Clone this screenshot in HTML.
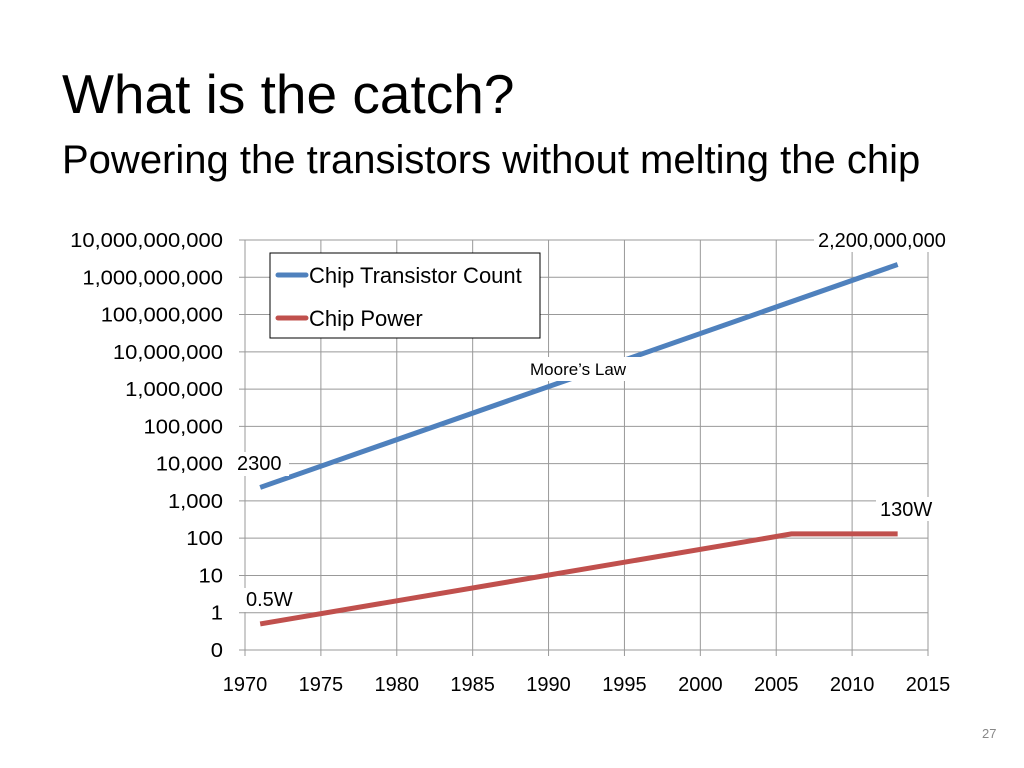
<!DOCTYPE html>
<html><head><meta charset="utf-8"><style>
body{margin:0;width:1024px;height:768px;background:#fff;font-family:"Liberation Sans",sans-serif;overflow:hidden;position:relative}
.t{position:absolute;white-space:nowrap;color:#000}
</style></head><body>
<div class="t" style="left:62px;top:62px;font-size:55px">What is the catch?</div>
<div class="t" style="left:62px;top:138px;font-size:40px">Powering the transistors without melting the chip</div>
<div class="t" style="left:982px;top:726px;font-size:13px;color:#888">27</div>
<svg id="chart" width="1024" height="768" style="position:absolute;left:0;top:0" font-family="Liberation Sans, sans-serif"></svg>
<script>
const years=[1971,2013];
const transistors=[2300,2200000000];
const powerYears=[1971,2006,2013];
const power=[0.5,130,130];
const xTicks=[1970,1975,1980,1985,1990,1995,2000,2005,2010,2015];
const yTickLabels=["0","1","10","100","1,000","10,000","100,000","1,000,000","10,000,000","100,000,000","1,000,000,000","10,000,000,000"];
const NS="http://www.w3.org/2000/svg";
const svg=document.getElementById('chart');
const x0=245,x1=928,yb=650,yt=240;
function X(v){return x0+(v-1970)/45*(x1-x0);}
function Y(v){return yb-(Math.log10(v)+1)/11*(yb-yt);}
function el(t,a,p){const e=document.createElementNS(NS,t);for(const k in a)e.setAttribute(k,a[k]);(p||svg).appendChild(e);return e;}
xTicks.forEach((v,i)=>{
 const l=el('line',{x1:X(v),x2:X(v),y1:yt,y2:yb+6,stroke:'#999','stroke-width':1});
 
 
 const t=el('text',{x:X(v),y:yb+41,'text-anchor':'middle','font-size':20});
 t.textContent=v;
 
 
});
yTickLabels.forEach((s,i)=>{
 const y=Y(Math.pow(10,i-1));
 const l=el('line',{x1:x0-6,x2:x1,y1:y,y2:y,stroke:'#999','stroke-width':1});
 
 
 const t=el('text',{x:223,y:y+7,'text-anchor':'end','font-size':20,'textLength':s.length>2?undefined:undefined});
 t.textContent=s;
 t.setAttribute('transform','translate(223,0) scale(1.1,1) translate(-223,0)');
 
 
});
const tp=el('polyline',{points:years.map((v,i)=>X(v)+','+Y(transistors[i])).join(' '),fill:'none',stroke:'#4f81bd','stroke-width':5});


const pp=el('polyline',{points:powerYears.map((v,i)=>X(v)+','+Y(power[i])).join(' '),fill:'none',stroke:'#c0504d','stroke-width':5});


function label(txt,x,y,size,name,bg){
 if(bg){const r=el('rect',{x:bg[0],y:bg[1],width:bg[2],height:bg[3],fill:'#fff'});}
 const t=el('text',{x:x,y:y,'font-size':size});t.textContent=txt;
 
 
}
label('2300',237,470,20,'label-2300',[235,452,54,24]);
label('2,200,000,000',818,247,20,'label-2200000000',[814,228,158,24]);
label('Moore\u2019s Law',530,375,17,'moores-law-label',[526,357,124,24]);
label('0.5W',246,606,20,'label-0-5w',[243,588,58,24]);
label('130W',880,516,20,'label-130w',[876,497,64,24]);
const lg=el('rect',{x:270,y:253,width:270,height:85,fill:'#fff',stroke:'#000','stroke-width':1});


[['Chip Transistor Count','#4f81bd',275],['Chip Power','#c0504d',318]].forEach(d=>{
 const l=el('line',{x1:278,x2:306,y1:d[2],y2:d[2],stroke:d[1],'stroke-width':5,'stroke-linecap':'round'});
 
 
 const t=el('text',{x:309,y:d[2]+8,'font-size':22});t.textContent=d[0];
 
 
});
</script>
</body></html>
